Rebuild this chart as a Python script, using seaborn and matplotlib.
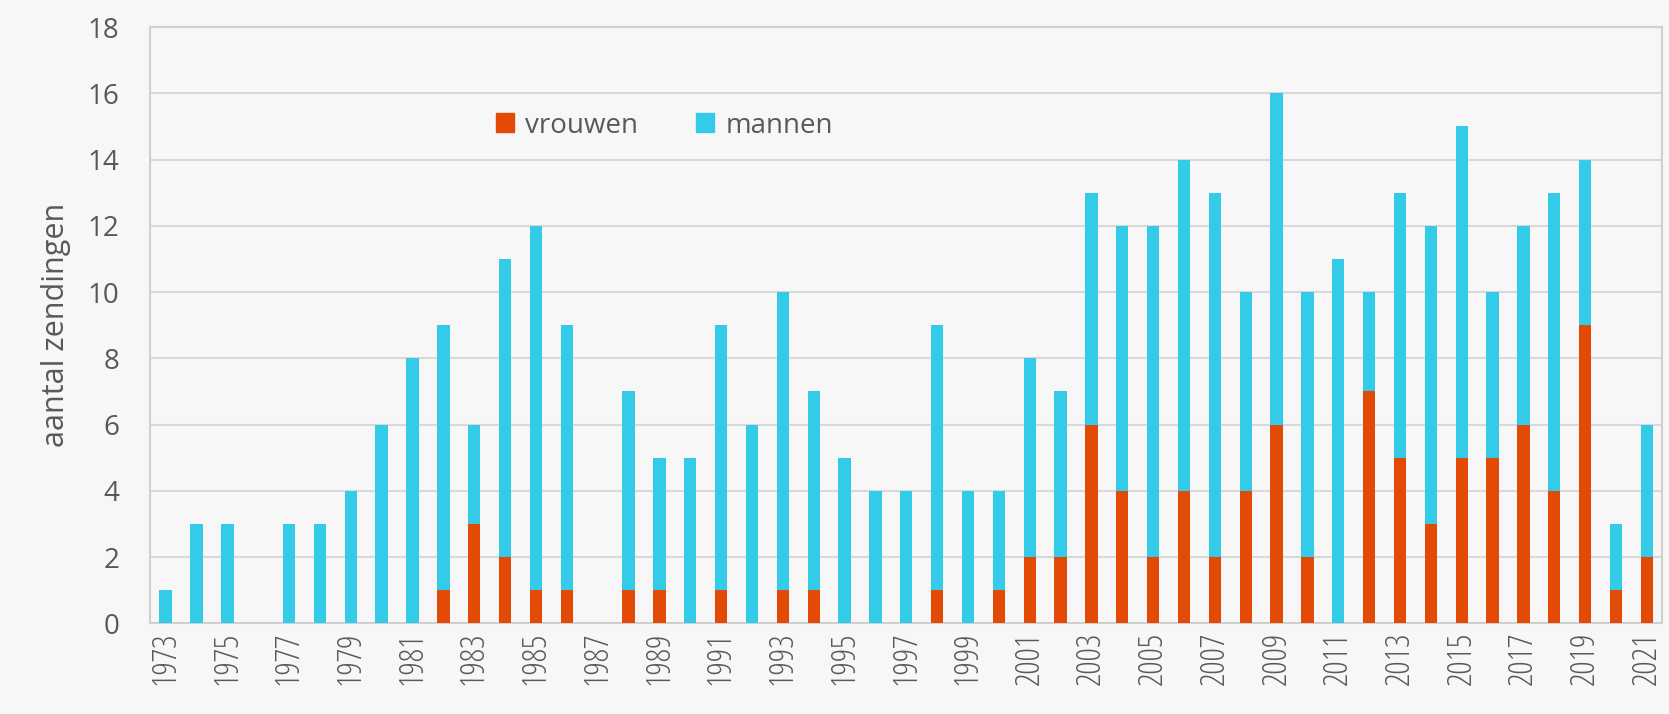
import matplotlib
matplotlib.use("Agg")
import matplotlib.pyplot as plt
import seaborn as sns
import pandas as pd
from matplotlib.patches import Patch

years = list(range(1973, 2022))
vrouwen = [0, 0, 0, 0, 0, 0, 0, 0, 0, 1, 3, 2, 1, 1, 0, 1, 1, 0, 1, 0, 1, 1, 0, 0, 0, 1, 0, 1,
           2, 2, 6, 4, 2, 4, 2, 4, 6, 2, 0, 7, 5, 3, 5, 5, 6, 4, 9, 1, 2]
mannen = [1, 3, 3, 0, 3, 3, 4, 6, 8, 8, 3, 9, 11, 8, 0, 6, 4, 5, 8, 6, 9, 6, 5, 4, 4, 8, 4, 3,
          6, 5, 7, 8, 10, 10, 11, 6, 10, 8, 11, 3, 8, 9, 10, 5, 6, 9, 5, 2, 4]
yticks = list(range(0, 19, 2))

ORANGE = "#e34a05"
CYAN = "#33cbe7"
BG = "#f7f7f7"
TXT = "#595959"

df = pd.DataFrame({"jaar": [str(y) for y in years], "vrouwen": vrouwen, "mannen": mannen})
df["totaal"] = df["vrouwen"] + df["mannen"]

sns.set_theme(style="white")
plt.rcParams["font.family"] = ["Open Sans", "DejaVu Sans"]

fig = plt.figure(figsize=(16.69, 7.14), dpi=100, facecolor=BG)
ax = fig.add_axes([0.090, 0.127, 0.906, 0.835])
ax.set_facecolor(BG)

sns.barplot(data=df, x="jaar", y="totaal", color=CYAN, width=0.4, saturation=1,
            linewidth=0, ax=ax, zorder=3)
sns.barplot(data=df, x="jaar", y="vrouwen", color=ORANGE, width=0.4, saturation=1,
            linewidth=0, ax=ax, zorder=4)

ax.set_xlim(-0.5, len(years) - 0.5)
ax.set_ylim(0, 18)
ax.set_yticks(yticks)
ax.set_yticklabels([str(v) for v in yticks], fontsize=20, color=TXT)
ax.set_xticks(range(0, len(years), 2))
ax.set_xticklabels([str(years[i]) for i in range(0, len(years), 2)], rotation=90,
                   fontsize=24, color=TXT, fontstretch="condensed")
ax.tick_params(axis="both", length=0)
ax.tick_params(axis="y", pad=22)
ax.tick_params(axis="x", pad=6)
ax.yaxis.grid(True, color="#d9d9d9", linewidth=1.5, zorder=0)
ax.set_axisbelow(True)
for s in ax.spines.values():
    s.set_visible(True)
    s.set_color("#d0d0d0")
    s.set_linewidth(1.5)

ax.set_xlabel("")
ax.set_ylabel("aantal zendingen", fontsize=22, color=TXT, labelpad=12)

handles = [Patch(color=ORANGE, label="vrouwen"), Patch(color=CYAN, label="mannen")]
ax.legend(handles=handles, loc="center", bbox_to_anchor=(0.34, 0.835), ncol=2, frameon=False,
          fontsize=20, handlelength=0.65, handleheight=0.65, handletextpad=0.4,
          columnspacing=2.1, labelcolor=TXT)

fig.savefig("out.png", dpi=100, facecolor=BG)
